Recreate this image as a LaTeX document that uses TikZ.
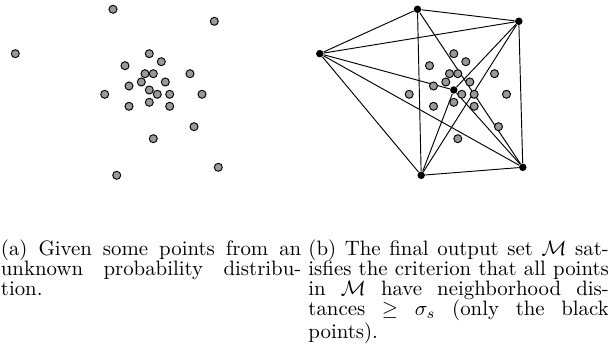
\documentclass[tikz,border=0pt]{standalone}
\usetikzlibrary{positioning,backgrounds}
\tolerance=9999
\lineskiplimit=-5pt
\begin{document}
\begin{tikzpicture}[x=0.48pt,y=-0.48pt,
  graydot/.style={circle,draw,fill=black!40,line width=0.45pt,inner sep=0pt,minimum size=3.85pt},
  blackdot/.style={circle,fill=black,inner sep=0pt,minimum size=3.6pt},
  link/.style={line width=0.45pt},
  subcap/.style={text width=144.2pt,align=justify,inner sep=0pt,anchor=north west,
    font=\fontsize{10}{9.6}\selectfont}]
  \useasboundingbox (0,0) rectangle (608,354);
  % the cloud of samples, left as is and right shifted
  \foreach \x/\y [count=\i] in {149.3/53.7,161.3/61.7,125/65.7,145/73.7,153.3/73.7,190/73.7,
      141.3/82,165.3/82,129/86,157.3/94.3,169.7/94.3,104.7/94.3,202/94.3,129/106.3,
      149.3/102.3,169.7/106.3,194/126.7,153.3/138.7}{
    \node[graydot] (a\i) at (\x,\y) {};
    \node[graydot] (b\i) at (\x+304.5,\y) {};
  }
  % the points kept in the output set
  \foreach \name/\x/\y in {T/113/9.3,TR/214.3/21.3,L/15.3/53.7,C/149.3/90,BR/218.3/167.3,B/116.7/175.3}{
    \node[graydot] (a\name) at (\x,\y) {};
    \node[blackdot] (p\name) at (\x+304.5,\y) {};
  }
  \begin{scope}[on background layer]
    \foreach \u/\v in {T/TR,T/L,T/B,T/BR,TR/L,TR/C,TR/B,TR/BR,L/C,L/BR,L/B,C/BR,C/B,BR/B}
      \draw[link] (p\u) -- (p\v);
  \end{scope}
  \node[subcap] (capa) at (0.5,239.4) {(a) Given some points from an\linebreak
    unknown probability distribu-\linebreak tion.};
  \node[subcap,right=3pt of capa.north east,anchor=north west] (capb) {(b) The final output set $\mathcal{M}$ sat-\linebreak
    isfies the criterion that all points\linebreak
    in $\mathcal{M}$ have neighborhood dis-\linebreak
    tances $\geq$ $\sigma_s$ (only the black\linebreak
    points).};
\end{tikzpicture}
\end{document}
